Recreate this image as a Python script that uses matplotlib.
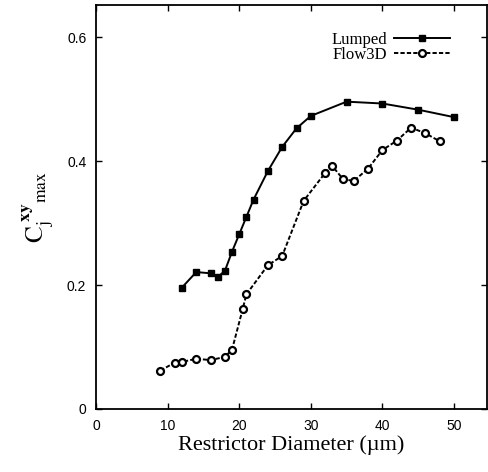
import matplotlib
matplotlib.use("Agg")
import matplotlib.pyplot as plt

plt.rcParams["mathtext.fontset"] = "stix"

lumped_x = [12, 14, 16, 17, 18, 19, 20, 21, 22, 24, 26, 28, 30, 35, 40, 45, 50]
lumped_y = [0.196, 0.221, 0.219, 0.213, 0.223, 0.254, 0.282, 0.310, 0.338, 0.384,
            0.423, 0.453, 0.473, 0.496, 0.493, 0.483, 0.471]

flow_x = [9, 11, 12, 14, 16, 18, 19, 20.5, 21, 24, 26, 29, 32, 33, 34.5, 36, 38,
          40, 42, 44, 46, 48]
flow_y = [0.062, 0.075, 0.076, 0.081, 0.079, 0.084, 0.096, 0.162, 0.185, 0.232,
          0.247, 0.336, 0.381, 0.392, 0.371, 0.368, 0.388, 0.418, 0.433, 0.454,
          0.445, 0.432]

xticks = [0, 10, 20, 30, 40, 50]
yticks = [0, 0.2, 0.4, 0.6]
ytick_labels = ["0", "0.2", "0.4", "0.6"]

fig = plt.figure(figsize=(4.88, 4.72), dpi=100)
ax = fig.add_axes([96/488, 1-409/472, (487-96)/488, (409-5)/472])

ax.plot(lumped_x, lumped_y, color="black", lw=1.4, marker="s", ms=4.5,
        mfc="black", mec="black", label="Lumped")
ax.plot(flow_x, flow_y, color="black", lw=1.4, ls=(0, (2.2, 1.1)), marker="o",
        ms=5, mfc="white", mec="black", mew=1.6, label="Flow3D")

ax.set_xlim(0, 54.6)
ax.set_ylim(0, 0.652)
ax.set_xticks(xticks)
ax.set_yticks(yticks)
ax.set_yticklabels(ytick_labels)
ax.tick_params(direction="in", top=True, right=True, length=4, width=1,
               labelsize=10, pad=7)
for lab in ax.get_xticklabels() + ax.get_yticklabels():
    lab.set_fontfamily("Liberation Sans")
for s in ax.spines.values():
    s.set_linewidth(1.3)

ax.set_xlabel("Restrictor Diameter (\u00b5m)", fontfamily="Liberation Serif",
              fontsize=16, labelpad=2)
ax.set_ylabel(r"$\mathrm{C}_{\mathrm{j}}^{\ \mathbf{xy}}{}_{\mathrm{max}}$",
              fontsize=18, labelpad=8)

leg = ax.legend(loc="upper right", frameon=False, markerfirst=False,
                handlelength=3.4, handletextpad=0.4, labelspacing=-0.05,
                bbox_to_anchor=(0.945, 0.97),
                prop={"family": "Liberation Serif", "size": 12})

fig.savefig("out.png", dpi=100)
